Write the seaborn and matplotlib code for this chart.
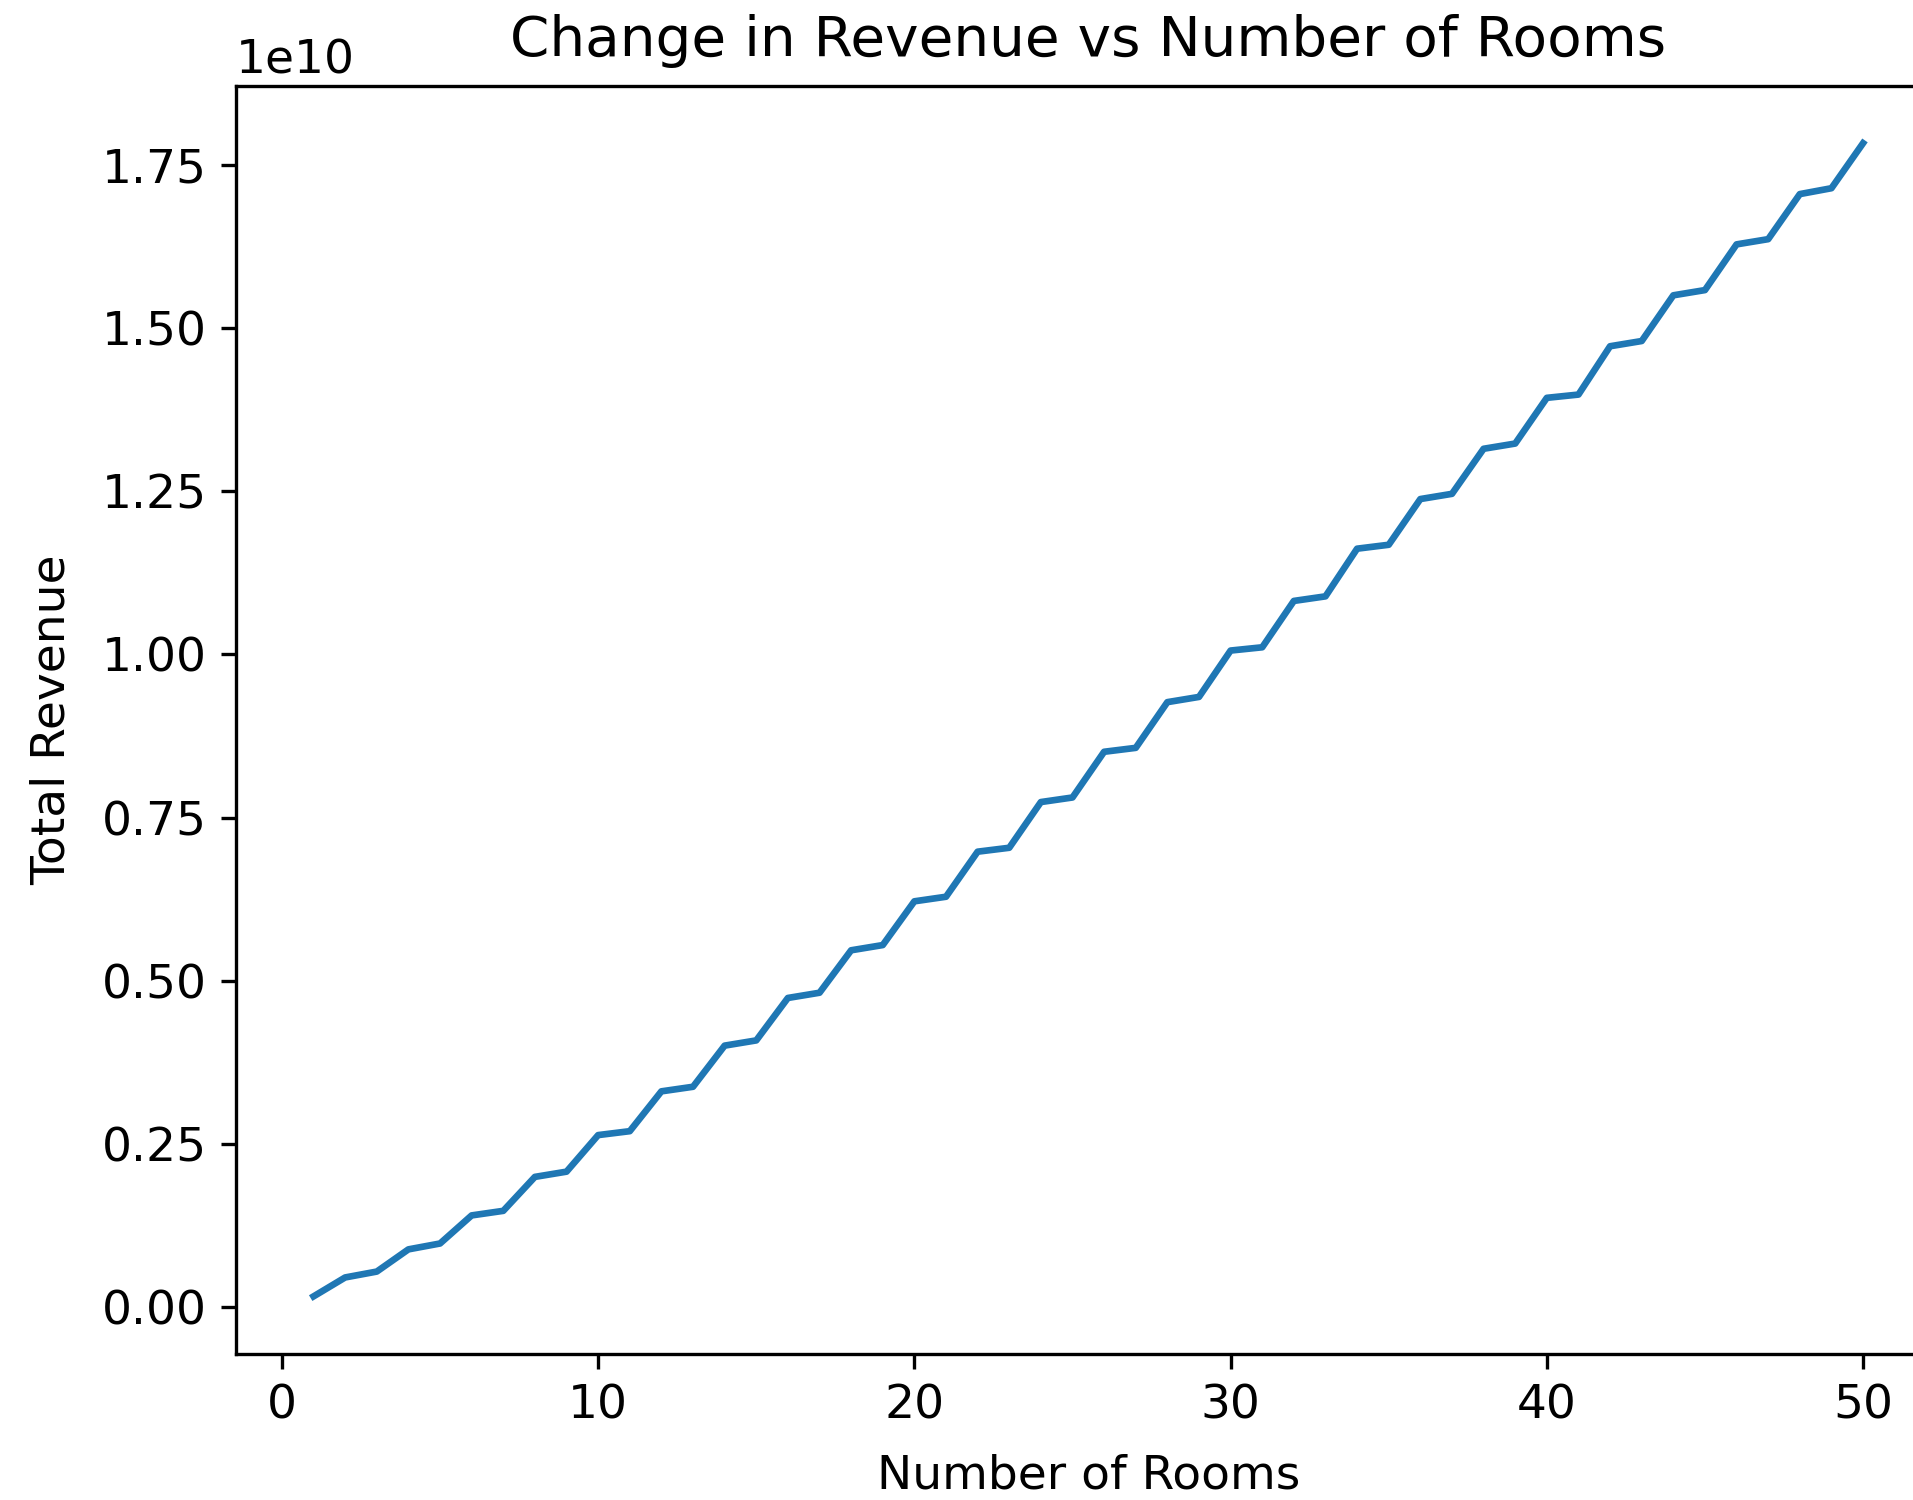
import matplotlib
matplotlib.use("Agg")
import matplotlib.pyplot as plt
import seaborn as sns
import pandas as pd

# Number of rooms offered
rooms = list(range(1, 51))

# Total revenue for each room count
revenue = [
    0.017e10, 0.046e10, 0.055e10, 0.089e10, 0.098e10,
    0.141e10, 0.148e10, 0.200e10, 0.208e10, 0.264e10,
    0.270e10, 0.331e10, 0.338e10, 0.401e10, 0.409e10,
    0.474e10, 0.482e10, 0.547e10, 0.555e10, 0.622e10,
    0.629e10, 0.698e10, 0.704e10, 0.774e10, 0.781e10,
    0.851e10, 0.857e10, 0.927e10, 0.935e10, 1.006e10,
    1.011e10, 1.082e10, 1.089e10, 1.162e10, 1.168e10,
    1.238e10, 1.246e10, 1.315e10, 1.323e10, 1.393e10,
    1.398e10, 1.472e10, 1.480e10, 1.550e10, 1.558e10,
    1.628e10, 1.636e10, 1.705e10, 1.714e10, 1.783e10,
]

df = pd.DataFrame({"Number of Rooms": rooms, "Total Revenue": revenue})

plt.rcParams["font.size"] = 11.3
plt.rcParams["lines.linewidth"] = 1.6

fig = plt.figure(figsize=(1913 / 300, 1500 / 300), dpi=300)
ax = fig.add_axes([0.1234, 0.0973, 0.891, 0.8457])

sns.lineplot(data=df, x="Number of Rooms", y="Total Revenue", ax=ax)

ax.set_title("Change in Revenue vs Number of Rooms", pad=7)
ax.set_xlabel("Number of Rooms", labelpad=6)
ax.set_ylabel("Total Revenue", labelpad=6.5)

fig.savefig("out.png", dpi=300)
